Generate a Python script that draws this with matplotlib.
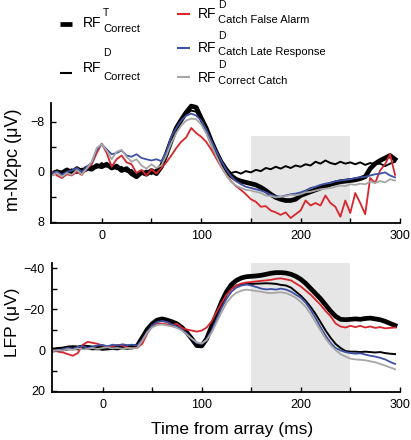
import matplotlib
matplotlib.use("Agg")
import matplotlib.pyplot as plt
from matplotlib.lines import Line2D

plt.rcParams['font.family'] = ['Liberation Sans', 'DejaVu Sans']

W, H = 411, 440

time_ms = list(range(-50, 300, 5))

# ---- top panel: m-N2pc (uV) ----
n2pc_T_correct = [
    0.3, 0.0, 0.2, -0.3, 0.2, -0.5, 0.0, -0.6, -0.4, -1.0,
    -0.8, -1.2, -0.6, -0.9, -0.2, -0.5, 0.3, 0.8, 0.1, 0.4,
    -0.2, 0.3, -0.8, -2.8, -5.0, -7.0, -8.3, -9.5, -10.5, -10.3,
    -8.6, -7.0, -5.0, -3.2, -1.6, -0.4, 0.6, 1.2, 1.5, 1.7,
    1.9, 2.1, 2.5, 3.0, 3.6, 4.1, 4.4, 4.6, 4.6, 4.4,
    3.8, 3.5, 3.2, 2.9, 2.6, 2.3, 2.0, 1.8, 1.6, 1.5,
    1.4, 1.3, 1.1, 0.8, -0.5, -1.3, -1.8, -2.2, -2.6, -2.0]
n2pc_D_correct = [
    0.2, -0.2, 0.4, 0.0, -0.4, 0.2, -0.5, -0.2, -0.9, -0.6,
    -1.4, -0.8, -1.0, -0.4, -0.8, 0.0, -0.3, 0.5, 0.2, -0.2,
    0.4, -0.4, -1.2, -3.2, -5.4, -7.2, -8.4, -9.2, -9.8, -9.6,
    -8.2, -6.5, -4.6, -2.8, -1.2, -0.3, 0.2, 0.0, 0.3, -0.1,
    0.1, -0.3, -0.1, -0.6, -0.4, -0.8, -0.5, -0.9, -0.6, -1.0,
    -0.8, -1.2, -1.0, -1.6, -1.3, -1.8, -1.4, -1.2, -1.6, -1.3,
    -1.5, -1.2, -1.5, -1.1, -1.4, -1.2, -1.3, -0.9, -1.3, -1.6]
n2pc_D_false_alarm = [
    0.0, 0.6, 1.0, 0.4, 0.6, 0.0, 0.5, -0.5, -1.2, -3.0,
    -4.5, -3.0, -0.8, -2.0, -2.6, -1.5, -1.2, 0.2, -0.3, 0.6,
    -0.4, 0.3, -0.6, -1.5, -2.6, -3.8, -4.8, -5.5, -7.0, -6.2,
    -5.6, -4.8, -3.6, -2.2, -0.8, 0.4, 1.5, 2.3, 2.9, 3.6,
    4.4, 4.8, 5.6, 5.5, 6.2, 6.5, 6.9, 6.5, 7.4, 6.8,
    6.2, 4.6, 5.4, 5.0, 5.4, 3.8, 5.0, 5.6, 7.2, 4.6,
    6.6, 3.4, 5.0, 6.8, 1.0, 1.8, -0.2, -1.2, -2.8, 0.5]
n2pc_D_late = [
    0.2, 0.0, 0.5, 0.0, -0.2, -0.6, 0.0, -0.8, -1.5, -3.5,
    -4.4, -3.6, -2.8, -3.0, -3.4, -2.6, -2.4, -2.8, -2.2, -2.0,
    -1.8, -2.0, -1.7, -3.2, -5.6, -7.0, -8.2, -9.0, -9.3, -9.0,
    -8.2, -6.8, -5.0, -3.4, -1.8, -0.4, 0.7, 1.5, 2.0, 2.4,
    2.6, 2.8, 3.0, 3.3, 3.7, 3.9, 4.0, 3.8, 3.6, 3.5,
    3.3, 3.0, 2.6, 2.4, 2.1, 1.9, 1.8, 1.5, 1.4, 1.3,
    1.2, 1.0, 0.9, 0.8, 0.6, 0.4, 0.3, 0.1, 0.6, 0.9]
n2pc_D_catch = [
    0.6, 0.2, 0.8, 0.2, 0.5, -0.3, 0.4, -0.5, -1.6, -3.8,
    -4.4, -3.4, -2.0, -3.2, -3.5, -2.4, -1.6, -2.0, -1.0, -0.5,
    -1.2, -0.6, -1.0, -2.6, -4.6, -6.2, -7.4, -8.2, -8.5, -8.4,
    -7.6, -6.2, -4.4, -2.6, -0.9, 0.5, 1.6, 2.2, 2.6, 2.9,
    3.0, 3.2, 3.4, 3.8, 3.9, 4.1, 4.0, 3.9, 3.7, 3.8,
    3.6, 3.3, 3.2, 3.0, 2.8, 2.7, 2.6, 2.4, 2.2, 2.3,
    2.0, 2.1, 1.9, 2.0, 1.6, 1.8, 1.5, 1.7, 1.2, 1.4]

# ---- bottom panel: LFP (uV) ----
lfp_T_correct = [
    0.0, -0.3, -0.5, -1.0, -1.2, -1.0, -1.5, -1.3, -1.0, -1.2,
    -0.8, -1.0, -1.2, -1.0, -1.5, -1.3, -1.5, -2.0, -6.0, -10.0,
    -12.8, -14.6, -15.2, -14.6, -13.8, -12.8, -11.0, -8.5, -5.5, -2.2,
    -2.0, -5.5, -11.5, -17.5, -23.5, -28.5, -32.0, -34.0, -35.2, -35.8,
    -36.0, -36.2, -36.5, -37.0, -37.5, -37.8, -37.8, -37.6, -37.0, -36.0,
    -34.5, -32.5, -30.0, -27.5, -25.0, -22.0, -19.0, -16.5, -15.0, -14.8,
    -15.0, -15.2, -15.0, -15.4, -15.6, -15.2, -14.8, -14.0, -13.0, -12.0]
lfp_D_correct = [
    0.2, 0.0, -0.8, -1.5, -0.5, -1.2, -0.6, -1.5, -0.8, -0.3,
    -1.0, -1.5, -0.8, -0.6, -1.2, -1.0, -1.4, -1.8, -5.5, -9.5,
    -12.5, -14.0, -14.5, -14.0, -13.0, -12.0, -10.2, -7.8, -5.0, -2.5,
    -2.0, -5.0, -10.0, -16.0, -22.0, -27.0, -30.0, -31.5, -32.0, -32.2,
    -32.3, -32.4, -32.5, -32.6, -32.5, -32.3, -31.8, -31.5, -30.5, -28.5,
    -26.5, -24.0, -21.0, -17.5, -13.5, -9.5, -6.0, -3.0, -1.0, 0.5,
    0.8, 0.8, 1.0, 0.8, 1.0, 1.2, 1.0, 1.5, 1.8, 2.0]
lfp_D_false_alarm = [
    0.0, 0.8, 1.2, 2.0, 2.8, 1.5, -2.5, -4.0, -3.5, -3.0,
    -2.2, -1.5, -1.8, -2.5, -2.2, -1.2, -0.8, -1.2, -3.0, -8.0,
    -11.5, -12.8, -13.0, -12.5, -12.2, -12.8, -10.8, -10.0, -9.5, -9.0,
    -9.5, -11.0, -14.0, -18.5, -23.0, -27.0, -29.8, -31.5, -32.5, -33.0,
    -33.2, -33.5, -33.8, -34.0, -34.3, -34.8, -35.0, -34.5, -34.0, -32.5,
    -31.0, -29.0, -27.0, -24.5, -22.0, -19.0, -16.5, -13.0, -11.5, -11.0,
    -11.8, -11.2, -11.8, -11.0, -11.5, -10.8, -11.2, -10.6, -10.8, -11.0]
lfp_D_late = [
    0.0, 0.4, -0.5, -1.0, -0.6, -1.5, -1.8, -1.0, -1.5, -2.2,
    -2.5, -1.8, -2.6, -2.2, -2.8, -2.4, -2.6, -2.2, -5.0, -9.0,
    -12.0, -13.6, -14.2, -13.6, -12.5, -11.5, -10.0, -8.0, -5.5, -3.4,
    -3.0, -5.2, -9.5, -15.0, -20.5, -25.0, -28.5, -30.5, -31.5, -32.0,
    -31.5, -30.8, -30.0, -29.6, -29.8, -29.5, -30.0, -29.5, -28.5, -27.0,
    -25.5, -23.0, -19.5, -15.5, -11.0, -7.0, -3.5, -1.0, 0.2, 1.0,
    1.5, 1.8, 1.6, 2.2, 2.8, 3.2, 3.8, 4.6, 5.8, 6.8]
lfp_D_catch = [
    0.5, 0.0, 0.3, -0.5, 0.0, -0.8, -0.3, -0.5, -1.0, -0.5,
    -1.0, -1.3, -0.8, -1.0, -0.6, -1.0, -0.8, -1.0, -4.5, -8.5,
    -11.0, -12.2, -12.5, -12.0, -11.5, -10.8, -9.5, -7.5, -5.5, -3.8,
    -3.2, -4.8, -8.5, -13.5, -18.5, -23.0, -26.0, -28.0, -29.0, -29.5,
    -29.2, -28.8, -28.5, -28.0, -27.8, -28.0, -28.2, -27.8, -26.8, -25.5,
    -23.5, -21.0, -17.5, -13.5, -9.5, -5.5, -2.5, 0.0, 2.0, 3.2,
    4.2, 4.6, 4.8, 5.0, 5.5, 6.0, 6.8, 7.6, 8.5, 9.4]

window = (150, 250)
x_ticks = [0, 100, 200, 300]
x_minor = [50, 150, 250]

C_RED = '#d8262c'
C_BLUE = '#3f51a3'
C_GRAY = '#a6a6a6'
C_SHADE = '#e6e6e6'

fig = plt.figure(figsize=(W / 100, H / 100), dpi=100)
ax1 = fig.add_axes([51 / W, 1 - 223 / H, 349 / W, 120 / H])
ax2 = fig.add_axes([52 / W, 1 - 392 / H, 348 / W, 129 / H])


def fx(x):
    return x / W


def fy(y):
    return 1 - y / H


def style(ax):
    for s in ('top', 'right'):
        ax.spines[s].set_visible(False)
    for s in ('left', 'bottom'):
        ax.spines[s].set_linewidth(1.3)
    ax.tick_params(which='both', direction='in', length=3.5, width=1.0,
                   labelsize=9, pad=5)
    ax.set_xlim(-51, 300)
    ax.set_xticks(x_ticks)
    ax.set_xticks(x_minor, minor=True)


def draw(ax, series):
    for vals, color, lw in series:
        ax.plot(time_ms, vals, color=color, lw=lw, solid_joinstyle='round')


# top panel
style(ax1)
ax1.set_ylim(8.2, -11.0)
ax1.set_yticks([-8, 0, 8])
ax1.set_yticks([-4, 4], minor=True)
ax1.axvspan(window[0], window[1], ymin=0, ymax=(8.2 + 5.7) / 19.2,
            color=C_SHADE, lw=0, zorder=0)
draw(ax1, [(n2pc_T_correct, 'black', 3.4),
           (n2pc_D_correct, 'black', 1.4),
           (n2pc_D_false_alarm, C_RED, 1.3),
           (n2pc_D_late, C_BLUE, 1.3),
           (n2pc_D_catch, C_GRAY, 1.3)])

# bottom panel
style(ax2)
ax2.set_ylim(20.5, -42.5)
ax2.set_yticks([-40, -20, 0, 20])
ax2.set_yticks([-30, -10, 10], minor=True)
ax2.axvspan(window[0], window[1], color=C_SHADE, lw=0, zorder=0)
draw(ax2, [(lfp_T_correct, 'black', 3.4),
           (lfp_D_correct, 'black', 1.4),
           (lfp_D_false_alarm, C_RED, 1.3),
           (lfp_D_late, C_BLUE, 1.3),
           (lfp_D_catch, C_GRAY, 1.3)])

# axis labels (placed in pixel coordinates)
fig.text(fx(13), fy(160), 'm-N2pc (μV)', fontsize=13, rotation=90,
         ha='center', va='center')
fig.text(fx(13), fy(322), 'LFP (μV)', fontsize=12.5, rotation=90,
         ha='center', va='center')
fig.text(fx(232), fy(429), 'Time from array (ms)', fontsize=12.5,
         ha='center', va='center')

# legend (manual, in pixel coordinates)
legend_items = [
    # handle x0, x1, y, color, lw, RF x, RF baseline, sup, sup baseline, sub, sub baseline
    (60, 72, 24, 'black', 3.4, 83, 27, 'T', 16, 'Correct', 32),
    (60, 72, 73, 'black', 1.5, 83, 72, 'D', 56, 'Correct', 80),
    (177, 190, 14, C_RED, 1.5, 198, 18, 'D', 8, 'Catch False Alarm', 23),
    (177, 190, 48, C_BLUE, 1.5, 198, 52, 'D', 39, 'Catch Late Response', 55),
    (177, 190, 77, C_GRAY, 1.5, 198, 82, 'D', 68, 'Correct Catch', 84),
]
for x0, x1, yl, col, lw, xr, yb, sup, ysup, sub, ysub in legend_items:
    fig.add_artist(Line2D([fx(x0), fx(x1)], [fy(yl), fy(yl)], color=col,
                          lw=lw, solid_capstyle='butt',
                          transform=fig.transFigure))
    fig.text(fx(xr), fy(yb), 'RF', fontsize=10, va='baseline', ha='left')
    fig.text(fx(xr + 20), fy(ysup), sup, fontsize=7.5, va='baseline', ha='left')
    fig.text(fx(xr + 20), fy(ysub), sub, fontsize=8, va='baseline', ha='left')

fig.savefig('out.png', dpi=100)
